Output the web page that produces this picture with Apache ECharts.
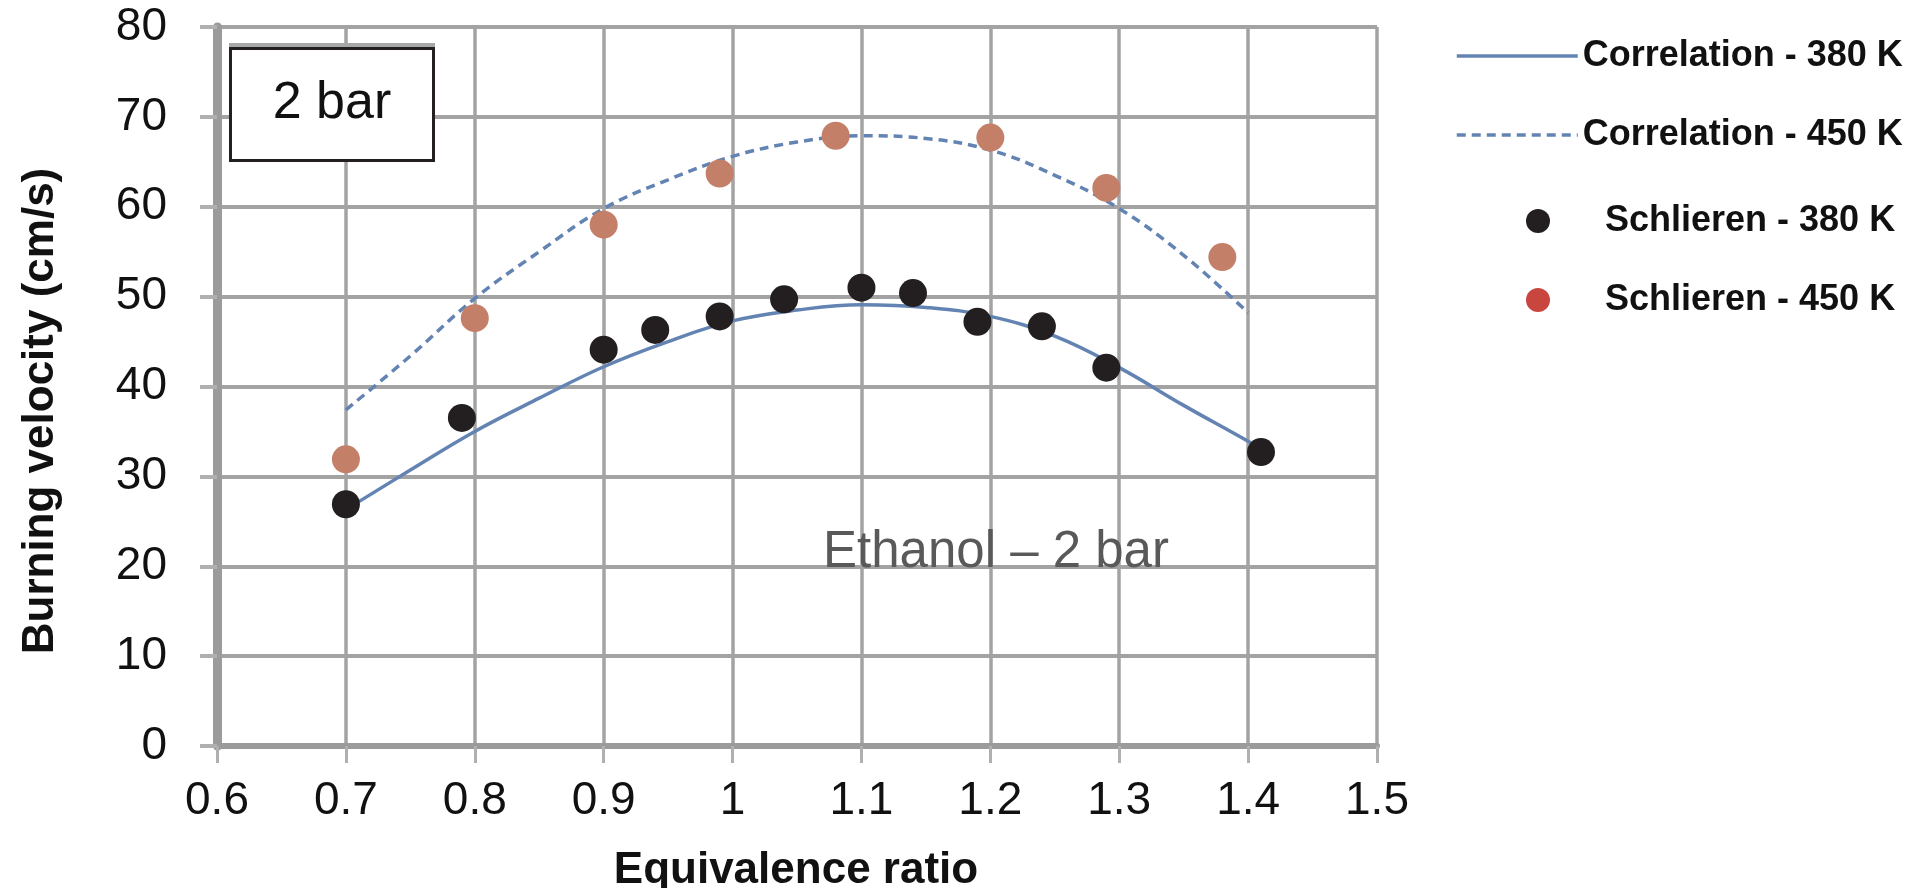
<!DOCTYPE html>
<html>
<head>
<meta charset="utf-8">
<script src="https://cdn.jsdelivr.net/npm/echarts@6/dist/echarts.min.js"></script>
<style>
html,body{margin:0;padding:0;background:#fff;}
#chart{width:1915px;height:888px;}
</style>
</head>
<body>
<div id="chart"></div>
<script>
// Measured data (Schlieren)
const phi380 = [0.70, 0.79, 0.90, 0.94, 0.99, 1.04, 1.10, 1.14, 1.19, 1.24, 1.29, 1.41];
const sl380  = [26.9, 36.5, 44.1, 46.3, 47.8, 49.7, 51.0, 50.4, 47.2, 46.7, 42.1, 32.7];
const phi450 = [0.70, 0.80, 0.90, 0.99, 1.08, 1.20, 1.29, 1.38];
const sl450  = [31.9, 47.6, 58.0, 63.7, 67.9, 67.7, 62.1, 54.4];

// Correlation curves
const phiCorr380 = [0.70, 0.75, 0.80, 0.85, 0.90, 0.95, 1.00, 1.05, 1.10, 1.15, 1.20, 1.25, 1.30, 1.35, 1.40, 1.41];
const corr380    = [26.3, 30.7, 35.0, 38.7, 42.2, 45.0, 47.3, 48.5, 49.1, 48.8, 47.8, 45.6, 42.1, 37.9, 33.9, 33.0];
const phiCorr450 = [0.70, 0.75, 0.80, 0.85, 0.90, 0.95, 1.00, 1.05, 1.10, 1.15, 1.20, 1.25, 1.30, 1.35, 1.40];
const corr450    = [37.4, 43.4, 49.8, 55.0, 59.8, 63.0, 65.6, 67.2, 67.9, 67.6, 66.3, 63.5, 59.8, 54.6, 48.2];

const seriesNames = ['Correlation - 380 K', 'Correlation - 450 K', 'Schlieren - 380 K', 'Schlieren - 450 K'];
const xTitle = 'Equivalence ratio';
const yTitle = 'Burning velocity (cm/s)';
const boxLabel = '2 bar';
const noteLabel = 'Ethanol \u2013 2 bar';

const FONT = "'Liberation Sans', Arial, sans-serif";
const zip = (a, b) => a.map((v, i) => [v, b[i]]);

const chart = echarts.init(document.getElementById('chart'), null, {renderer: 'canvas'});

const lineColor = '#6384B3';
const gridColor = '#A3A3A3';
const solidStyle = {color: lineColor, width: 3.5, type: 'solid'};
const dashStyle = {color: lineColor, width: 3.5, type: [9, 6]};

function legendAt(item, left, top, w, h) {
  return {
    data: [item],
    left: left, top: top, orient: 'vertical',
    itemWidth: w, itemHeight: h, padding: 0,
    selectedMode: false,
    textStyle: {fontFamily: FONT, fontSize: 36, fontWeight: 'bold', color: '#111'}
  };
}

chart.setOption({
  animation: false,
  backgroundColor: '#fff',
  grid: {left: 217, right: 538, top: 27, bottom: 142, containLabel: false},
  xAxis: {
    type: 'value', min: 0.6, max: 1.5, interval: 0.1,
    axisLine: {show: true, onZero: false, lineStyle: {color: '#9B9B9B', width: 6}},
    axisTick: {show: true, length: 17, lineStyle: {color: '#B0B0B0', width: 3}},
    axisLabel: {fontFamily: FONT, fontSize: 46, color: '#111', margin: 32},
    splitLine: {show: true, lineStyle: {color: gridColor, width: 3.5}}
  },
  yAxis: {
    type: 'value', min: 0, max: 80, interval: 10,
    axisLine: {show: true, onZero: false, lineStyle: {color: '#9B9B9B', width: 9}},
    axisTick: {show: true, length: 17, lineStyle: {color: '#B0B0B0', width: 4}},
    axisLabel: {fontFamily: FONT, fontSize: 46, color: '#111', margin: 50},
    splitLine: {show: true, lineStyle: {color: gridColor, width: 4}}
  },
  legend: [
    legendAt({name: seriesNames[0], itemStyle: {opacity: 0}, lineStyle: solidStyle}, 1455, 38, 121, 14),
    legendAt({name: seriesNames[1], itemStyle: {opacity: 0}, lineStyle: dashStyle}, 1455, 117, 121, 14),
    legendAt({name: seriesNames[2]}, 1526, 203, 124, 24),
    legendAt({name: seriesNames[3], itemStyle: {color: '#C9463F'}}, 1526, 282, 124, 24)
  ],
  series: [
    {
      name: seriesNames[0], type: 'line', data: zip(phiCorr380, corr380),
      smooth: 0.4, symbol: 'none', showSymbol: false, z: 3,
      lineStyle: solidStyle, itemStyle: {color: lineColor}
    },
    {
      name: seriesNames[1], type: 'line', data: zip(phiCorr450, corr450),
      smooth: 0.4, symbol: 'none', showSymbol: false, z: 3,
      lineStyle: dashStyle, itemStyle: {color: lineColor}
    },
    {
      name: seriesNames[2], type: 'scatter', data: zip(phi380, sl380),
      symbol: 'circle', symbolSize: 28, z: 4,
      itemStyle: {color: '#231F20', opacity: 1}
    },
    {
      name: seriesNames[3], type: 'scatter', data: zip(phi450, sl450),
      symbol: 'circle', symbolSize: 28, z: 4,
      itemStyle: {color: '#C47F68', opacity: 1}
    }
  ],
  graphic: [
    {type: 'rect', z: 10, shape: {x: 229, y: 43, width: 206, height: 5}, style: {fill: '#A8A8A8'}},
    {type: 'rect', z: 11, shape: {x: 230.5, y: 48.5, width: 203, height: 112}, style: {fill: '#fff', stroke: '#231F20', lineWidth: 3}},
    {type: 'text', z: 12, x: 332, y: 104, style: {text: boxLabel, font: "52px " + FONT, fill: '#111', textAlign: 'center', textVerticalAlign: 'middle'}},
    {type: 'text', z: 12, x: 996, y: 553, style: {text: noteLabel, font: "51px " + FONT, fill: '#595959', textAlign: 'center', textVerticalAlign: 'middle'}},
    {type: 'text', z: 12, x: 796, y: 871, style: {text: xTitle, font: "bold 44px " + FONT, fill: '#111', textAlign: 'center', textVerticalAlign: 'middle'}},
    {type: 'text', z: 12, x: 41, y: 411, rotation: Math.PI / 2, style: {text: yTitle, font: "bold 44px " + FONT, fill: '#111', textAlign: 'center', textVerticalAlign: 'middle'}}
  ]
});
</script>
</body>
</html>
